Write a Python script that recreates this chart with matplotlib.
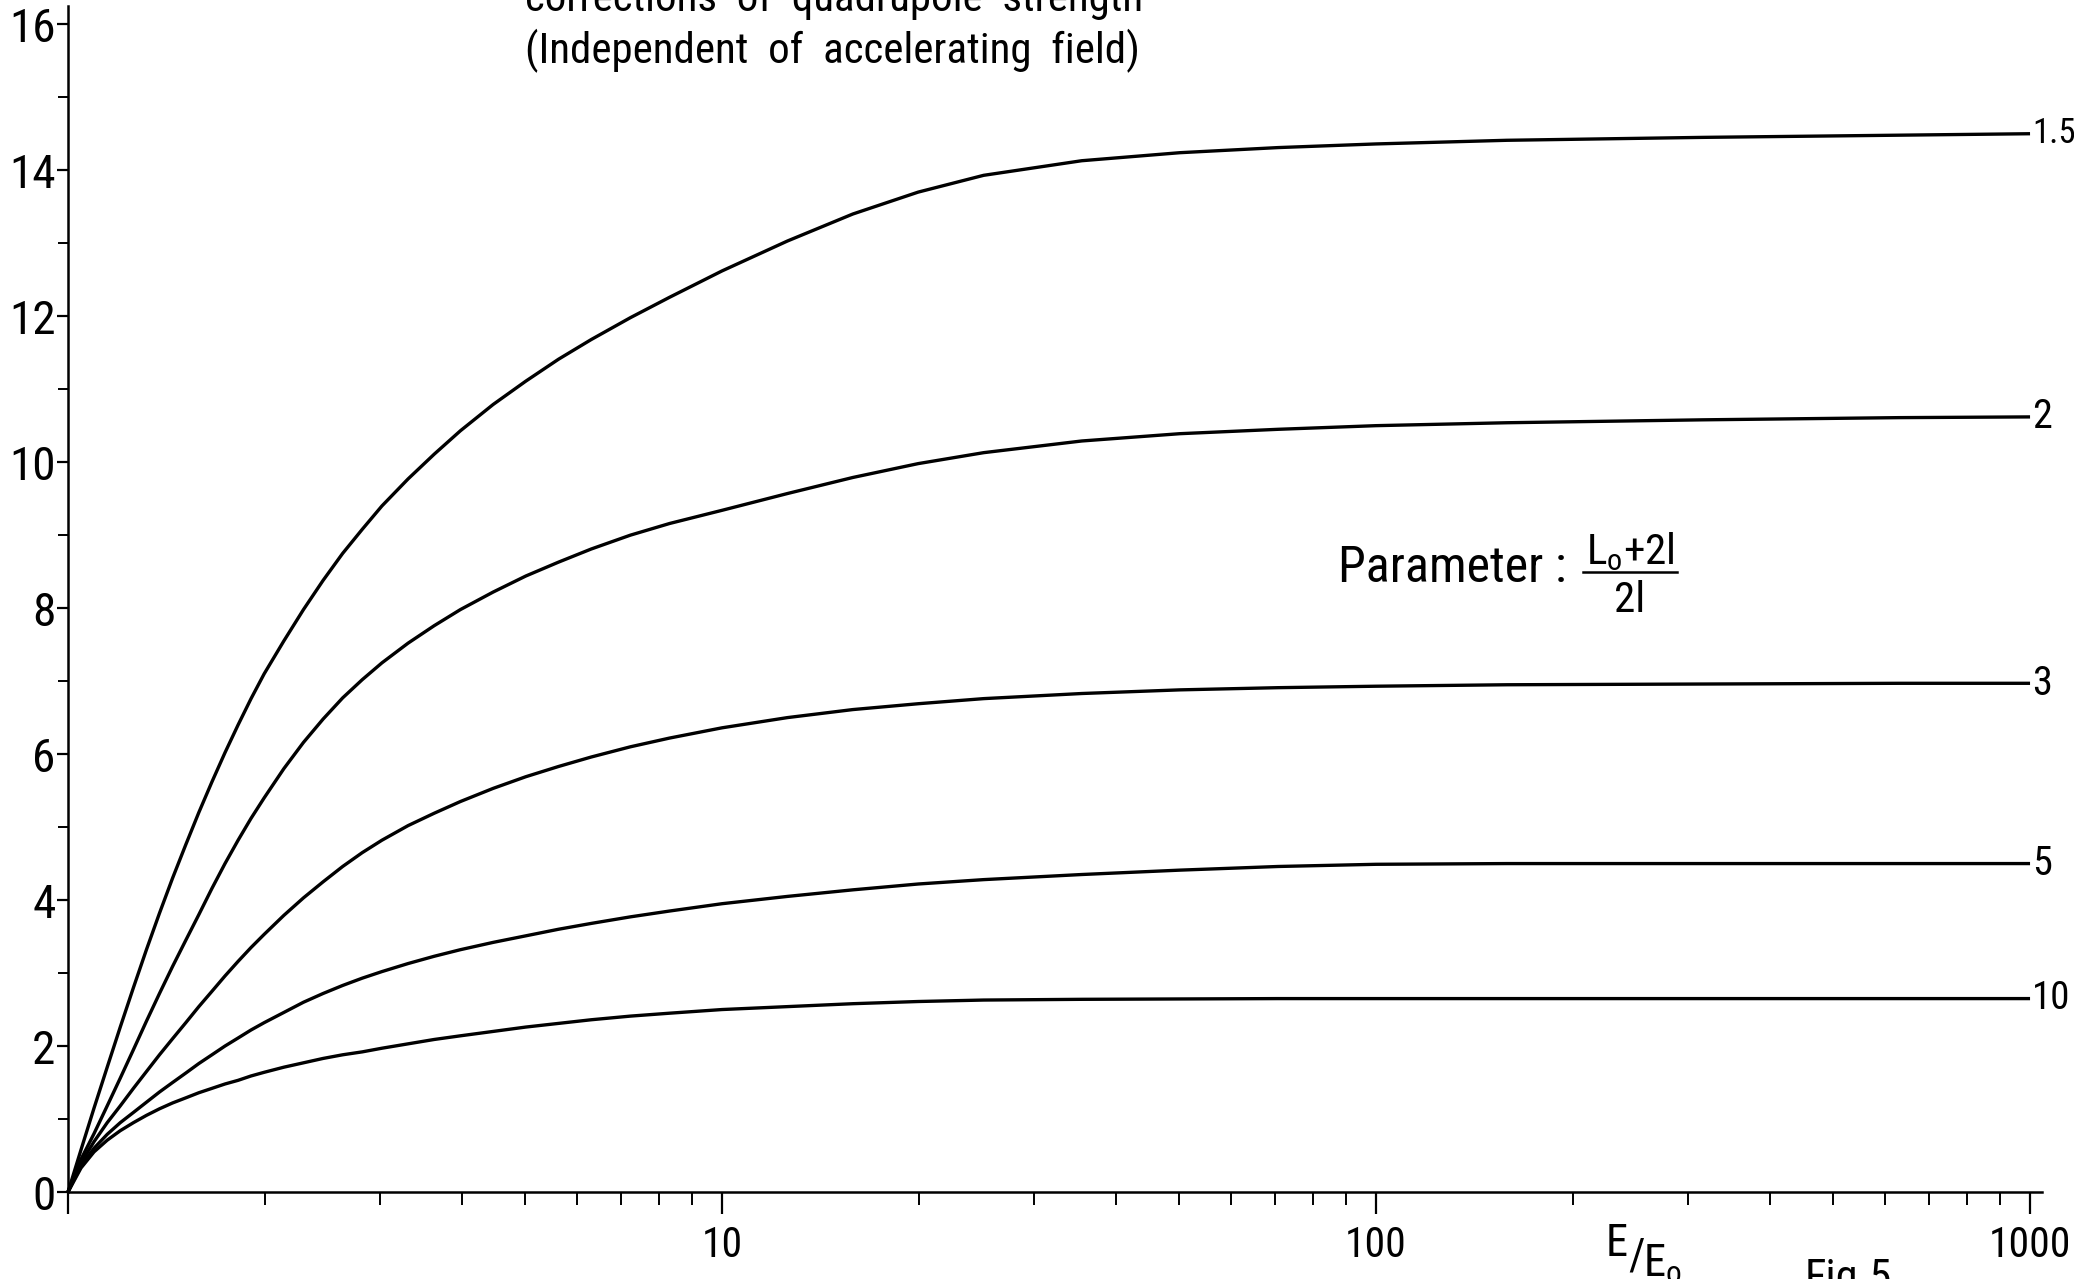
import matplotlib
matplotlib.use("Agg")
import matplotlib.pyplot as plt
from matplotlib.ticker import FixedLocator, NullFormatter, FixedFormatter, LogLocator
from matplotlib.lines import Line2D

plt.rcParams['font.family'] = ['Roboto Condensed', 'Roboto', 'DejaVu Sans']
plt.rcParams['font.stretch'] = 'condensed'
plt.rcParams['mathtext.fontset'] = 'custom'
plt.rcParams['mathtext.rm'] = 'Roboto Condensed'
plt.rcParams['mathtext.it'] = 'Roboto Condensed'

energy = [1, 1.047, 1.096, 1.148, 1.202, 1.259, 1.318, 1.38, 1.445, 1.514, 1.585, 1.66,
          1.738, 1.82, 1.905, 1.995, 2.138, 2.291, 2.455, 2.63, 2.818, 3.02, 3.311, 3.631,
          3.981, 4.467, 5.012, 5.623, 6.31, 7.244, 8.318, 10, 12.59, 15.85, 19.95, 25.12,
          35.48, 50.12, 70.79, 100, 158.5, 316.2, 631, 1000]

# one curve per parameter (Lo+2l)/2l
k_15 = [0, 0.58, 1.15, 1.71, 2.26, 2.8, 3.32, 3.82, 4.3, 4.76, 5.2, 5.62, 6.02, 6.4, 6.76,
        7.1, 7.55, 7.98, 8.38, 8.75, 9.08, 9.4, 9.77, 10.11, 10.43, 10.79, 11.11, 11.41, 11.68,
        11.98, 12.26, 12.62, 13.03, 13.4, 13.7, 13.93, 14.13, 14.24, 14.31, 14.36, 14.41,
        14.45, 14.48, 14.5]
k_2 = [0, 0.45, 0.8, 1.18, 1.56, 1.95, 2.34, 2.72, 3.09, 3.45, 3.8, 4.16, 4.5, 4.82, 5.12,
       5.4, 5.8, 6.16, 6.48, 6.77, 7.02, 7.25, 7.52, 7.76, 7.98, 8.22, 8.44, 8.63, 8.81,
       9.0, 9.16, 9.34, 9.57, 9.79, 9.98, 10.13, 10.29, 10.39, 10.45, 10.5, 10.54,
       10.58, 10.61, 10.62]
k_3 = [0, 0.4, 0.69, 0.95, 1.18, 1.42, 1.65, 1.88, 2.1, 2.32, 2.54, 2.75, 2.96, 3.16, 3.35,
       3.53, 3.79, 4.03, 4.25, 4.46, 4.65, 4.82, 5.02, 5.19, 5.35, 5.53, 5.69, 5.83, 5.96,
       6.1, 6.22, 6.36, 6.5, 6.61, 6.69, 6.76, 6.83, 6.88, 6.91, 6.93, 6.95,
       6.96, 6.97, 6.97]
k_5 = [0, 0.36, 0.6, 0.79, 0.95, 1.09, 1.23, 1.37, 1.5, 1.63, 1.76, 1.88, 2.0, 2.11, 2.22,
       2.32, 2.46, 2.6, 2.72, 2.83, 2.93, 3.02, 3.13, 3.23, 3.32, 3.42, 3.51, 3.6, 3.68,
       3.77, 3.85, 3.95, 4.05, 4.14, 4.22, 4.28, 4.35, 4.41, 4.46, 4.49, 4.5,
       4.5, 4.5, 4.5]
k_10 = [0, 0.33, 0.55, 0.71, 0.84, 0.95, 1.05, 1.14, 1.22, 1.29, 1.36, 1.42, 1.48, 1.53, 1.59,
        1.64, 1.71, 1.77, 1.83, 1.88, 1.92, 1.97, 2.03, 2.09, 2.14, 2.2, 2.26, 2.31, 2.36,
        2.41, 2.45, 2.5, 2.54, 2.58, 2.61, 2.63, 2.64, 2.645, 2.65, 2.65, 2.65,
        2.65, 2.65, 2.65]

curves = [k_15, k_2, k_3, k_5, k_10]
curve_labels = ["1.5", "2", "3", "5", "10"]
label_sizes = [25, 29, 29, 29, 28]

y_ticks = [0, 2, 4, 6, 8, 10, 12, 14, 16]
y_minor = [1, 3, 5, 7, 9, 11, 13, 15]
x_ticks = [1, 10, 100, 1000]
x_ticklabels = ["", "10", "100", "1000"]

W, H = 2074, 1279
fig = plt.figure(figsize=(W / 100, H / 100), dpi=100)
ax = fig.add_axes([68 / W, 87 / H, (2042 - 68) / W, (1192 - 6) / H])

for k, lab, fs in zip(curves, curve_labels, label_sizes):
    ax.plot(energy, k, color="black", lw=2.4, solid_capstyle="butt", solid_joinstyle="round",
            clip_on=False)
    ax.annotate(lab, xy=(energy[-1], k[-1]), xytext=(1.5, 0), textcoords="offset points",
                ha="left", va="center", fontsize=fs, annotation_clip=False)

ax.set_xscale("log")
ax.set_xlim(1, 1043)
ax.set_ylim(0, 16.25)

for s in ["top", "right"]:
    ax.spines[s].set_visible(False)
for s in ["left", "bottom"]:
    ax.spines[s].set_linewidth(1.8)

ax.xaxis.set_major_locator(FixedLocator(x_ticks))
ax.xaxis.set_major_formatter(FixedFormatter(x_ticklabels))
ax.xaxis.set_minor_locator(LogLocator(base=10, subs=range(2, 10)))
ax.xaxis.set_minor_formatter(NullFormatter())
ax.yaxis.set_major_locator(FixedLocator(y_ticks))
ax.yaxis.set_minor_locator(FixedLocator(y_minor))

ax.tick_params(axis="x", which="major", direction="out", length=16, width=1.6,
               labelsize=30, pad=8)
ax.tick_params(axis="x", which="minor", direction="out", length=9, width=1.4)
ax.tick_params(axis="y", which="major", direction="out", length=8, width=1.6,
               labelsize=34, pad=1)
ax.tick_params(axis="y", which="minor", direction="out", length=7, width=1.4)

# title, partly cut off at top
fig.text(525 / W, 1 - 11 / H, "corrections  of  quadrupole  strength", fontsize=31,
         ha="left", va="baseline")
fig.text(525 / W, 1 - 63 / H, "(Independent  of  accelerating  field)", fontsize=31,
         ha="left", va="baseline")

# parameter note
fig.text(1566 / W, 1 - 582 / H, "Parameter :", fontsize=36, ha="right", va="baseline")
fig.text(1630 / W, 1 - 564 / H, r"L$_\mathrm{o}$+2l", fontsize=31, ha="center", va="baseline")
fig.add_artist(Line2D([1583 / W, 1677 / W], [1 - 572 / H, 1 - 572 / H], color="black", lw=1.8))
fig.text(1630 / W, 1 - 612 / H, "2l", fontsize=31, ha="center", va="baseline")

# axis label E/Eo
fig.text(1606 / W, 1 - 1256 / H, "E", fontsize=32, ha="left", va="baseline")
fig.text(1628 / W, 1 - 1270 / H, "/", fontsize=32, ha="left", va="baseline")
fig.text(1643 / W, 1 - 1277 / H, r"E$_\mathrm{o}$", fontsize=32, ha="left", va="baseline")

# figure number, cut at bottom edge
fig.text(1805 / W, 1 - 1258 / H, "Fig.5", fontsize=32, ha="left", va="top")

fig.savefig("out.png", dpi=100)
